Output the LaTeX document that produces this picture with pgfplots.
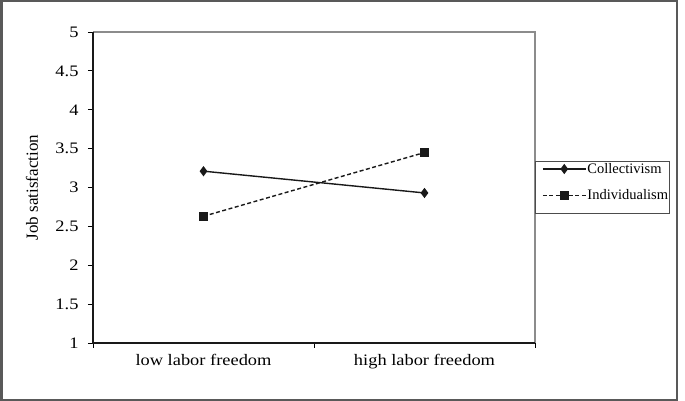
\documentclass[border=0pt]{standalone}
\usepackage{fontspec}
\setmainfont{Liberation Serif}
\newfontfamily\widefont[FakeStretch=1.15]{Liberation Serif}
\usepackage{pgfplots}
\pgfplotsset{compat=1.18}
\begin{document}
\begin{tikzpicture}
\useasboundingbox (0,0) rectangle (685bp,401bp);
\draw[line width=2bp, color=black!65] (1.5bp,1bp) rectangle (677bp,400bp);
\begin{axis}[
  at={(93bp,58bp)}, anchor=south west,
  scale only axis, width=442bp, height=311bp,
  xmin=0, xmax=2, ymin=1, ymax=5,
  clip=false,
  axis line style={draw=none},
  xtick={0,1,2}, xticklabels={},
  extra x ticks={0.5,1.5},
  extra x tick labels={low labor freedom, high labor freedom},
  extra x tick style={major tick length=0pt},
  ytick={1,1.5,2,2.5,3,3.5,4,4.5,5},
  xtick pos=bottom, ytick pos=left,
  tick align=outside, major tick length=5bp,
  tick style={black, line width=0.9bp},
  /pgf/number format/assume math mode=true,
  /pgf/number format/fixed,
  tick label style={font=\widefont\fontsize{16bp}{19bp}\selectfont},
  yticklabel style={xshift=-6bp},
  xticklabel style={yshift=-8bp},
  ylabel={Job satisfaction},
  ylabel style={at={(axis description cs:-0.138,0.5)}, anchor=center, font=\fontsize{17bp}{20bp}\selectfont},
  legend style={at={(axis description cs:1.002,0.582)}, anchor=north west, xshift=4bp,
    draw=none, fill=none, font=\fontsize{14.5bp}{16bp}\selectfont,
    inner xsep=2bp, inner ysep=0bp, row sep=13bp,
    nodes={inner sep=1bp}},
  legend cell align=left,
  legend image code/.code={
    \draw[mark repeat=2,mark phase=2,#1] plot coordinates {(0bp,0bp) (21.5bp,0bp) (43bp,0bp)};
  },
]
\draw[black!45, line width=1.6bp] (rel axis cs:0,1) -- (rel axis cs:1,1) -- (rel axis cs:1,0);
\draw[black!90, line width=1.2bp] (rel axis cs:0,1) -- (rel axis cs:0,0) -- (rel axis cs:1,0);
\draw[black!70, line width=1bp] (axis description cs:1.002,0.582) rectangle (axis description cs:1.305,0.418);
\addplot[black!90, line width=1.4bp, mark=diamond*, mark size=4bp, mark options={solid, fill=black!90}]
  coordinates {(0.5,3.21) (1.5,2.93)};
\addlegendentry{Collectivism}
\addplot[black!90, line width=1.4bp, dash pattern=on 4bp off 2.5bp, mark=square*, mark size=4bp, mark options={solid, fill=black!90}]
  coordinates {(0.5,2.63) (1.5,3.45)};
\addlegendentry{Individualism}
\end{axis}
\end{tikzpicture}
\end{document}
